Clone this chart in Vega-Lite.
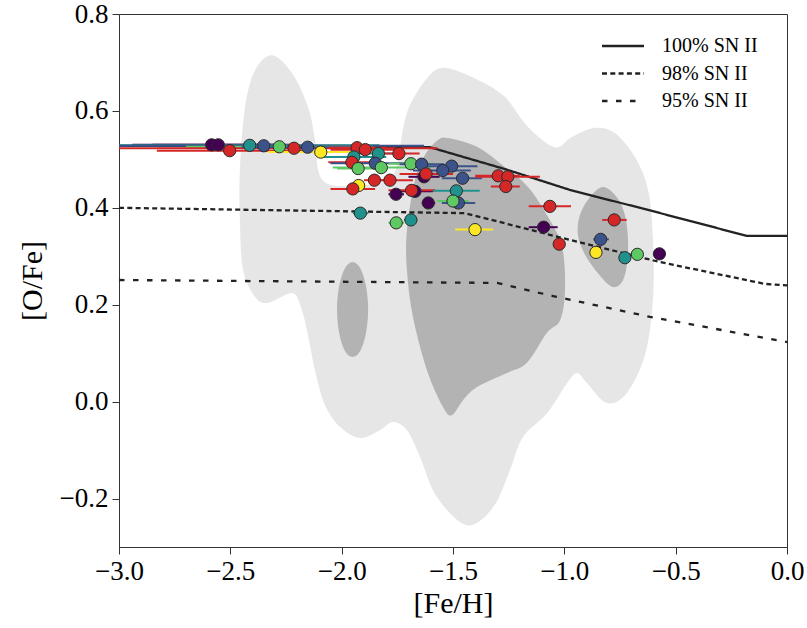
{
  "$schema": "https://vega.github.io/schema/vega-lite/v6.json",
  "width": 668,
  "height": 533,
  "autosize": {"type": "none"},
  "padding": {"left": 119, "top": 14, "right": 20, "bottom": 81},
  "background": "white",
  "config": {
    "view": {"stroke": "#333", "strokeWidth": 1},
    "axis": {
      "grid": false,
      "labelFont": "Liberation Serif",
      "labelFontSize": 27,
      "labelColor": "#000",
      "titleFont": "Liberation Serif",
      "titleFontSize": 30,
      "titleFontWeight": "normal",
      "titleColor": "#000",
      "tickSize": 7,
      "tickColor": "#333",
      "domainColor": "#333",
      "labelFlush": false,
      "labelOverlap": false,
      "labelPadding": 4
    }
  },
  "datasets": {
    "outer": [
      {"i": 1, "x": -2.313, "y": 0.715}, {"i": 2, "x": -2.223, "y": 0.678}, {"i": 3, "x": -2.151, "y": 0.608},
      {"i": 4, "x": -2.12, "y": 0.54}, {"i": 5, "x": -2.106, "y": 0.478}, {"i": 6, "x": -2.075, "y": 0.453},
      {"i": 7, "x": -2.008, "y": 0.445}, {"i": 8, "x": -1.895, "y": 0.447}, {"i": 9, "x": -1.783, "y": 0.459},
      {"i": 10, "x": -1.747, "y": 0.499}, {"i": 11, "x": -1.725, "y": 0.561}, {"i": 12, "x": -1.693, "y": 0.612},
      {"i": 13, "x": -1.612, "y": 0.67}, {"i": 14, "x": -1.536, "y": 0.689}, {"i": 15, "x": -1.388, "y": 0.664},
      {"i": 16, "x": -1.267, "y": 0.629}, {"i": 17, "x": -1.163, "y": 0.567}, {"i": 18, "x": -1.042, "y": 0.525},
      {"i": 19, "x": -0.966, "y": 0.546}, {"i": 20, "x": -0.862, "y": 0.565}, {"i": 21, "x": -0.772, "y": 0.554},
      {"i": 22, "x": -0.683, "y": 0.505}, {"i": 23, "x": -0.624, "y": 0.437}, {"i": 24, "x": -0.602, "y": 0.334},
      {"i": 25, "x": -0.602, "y": 0.21}, {"i": 26, "x": -0.638, "y": 0.096}, {"i": 27, "x": -0.719, "y": 0.018},
      {"i": 28, "x": -0.808, "y": -0.003}, {"i": 29, "x": -0.898, "y": 0.038}, {"i": 30, "x": -0.943, "y": 0.059},
      {"i": 31, "x": -0.988, "y": 0.038}, {"i": 32, "x": -1.078, "y": -0.024}, {"i": 33, "x": -1.186, "y": -0.073},
      {"i": 34, "x": -1.244, "y": -0.141}, {"i": 35, "x": -1.32, "y": -0.218}, {"i": 36, "x": -1.437, "y": -0.255},
      {"i": 37, "x": -1.572, "y": -0.197}, {"i": 38, "x": -1.648, "y": -0.114}, {"i": 39, "x": -1.707, "y": -0.059},
      {"i": 40, "x": -1.77, "y": -0.042}, {"i": 41, "x": -1.828, "y": -0.059}, {"i": 42, "x": -1.918, "y": -0.075},
      {"i": 43, "x": -2.008, "y": -0.052}, {"i": 44, "x": -2.075, "y": -0.007}, {"i": 45, "x": -2.12, "y": 0.065},
      {"i": 46, "x": -2.156, "y": 0.148}, {"i": 47, "x": -2.183, "y": 0.195}, {"i": 48, "x": -2.223, "y": 0.224},
      {"i": 49, "x": -2.331, "y": 0.204}, {"i": 50, "x": -2.389, "y": 0.216}, {"i": 51, "x": -2.443, "y": 0.272},
      {"i": 52, "x": -2.457, "y": 0.375}, {"i": 53, "x": -2.457, "y": 0.478}, {"i": 54, "x": -2.434, "y": 0.608},
      {"i": 55, "x": -2.389, "y": 0.684}
    ],
    "inner": [
      {"p": "c", "i": 1, "x": -1.567, "y": 0.54}, {"p": "c", "i": 2, "x": -1.522, "y": 0.544},
      {"p": "c", "i": 3, "x": -1.388, "y": 0.525}, {"p": "c", "i": 4, "x": -1.267, "y": 0.484},
      {"p": "c", "i": 5, "x": -1.163, "y": 0.443}, {"p": "c", "i": 6, "x": -1.073, "y": 0.381},
      {"p": "c", "i": 7, "x": -1.01, "y": 0.319}, {"p": "c", "i": 8, "x": -0.997, "y": 0.23},
      {"p": "c", "i": 9, "x": -1.019, "y": 0.168}, {"p": "c", "i": 10, "x": -1.078, "y": 0.142},
      {"p": "c", "i": 11, "x": -1.168, "y": 0.08}, {"p": "c", "i": 12, "x": -1.258, "y": 0.059},
      {"p": "c", "i": 13, "x": -1.392, "y": 0.03}, {"p": "c", "i": 14, "x": -1.455, "y": 0.003},
      {"p": "c", "i": 15, "x": -1.505, "y": -0.028}, {"p": "c", "i": 16, "x": -1.545, "y": -0.011},
      {"p": "c", "i": 17, "x": -1.617, "y": 0.065}, {"p": "c", "i": 18, "x": -1.68, "y": 0.175},
      {"p": "c", "i": 19, "x": -1.707, "y": 0.272}, {"p": "c", "i": 20, "x": -1.707, "y": 0.354},
      {"p": "c", "i": 21, "x": -1.671, "y": 0.457}, {"p": "c", "i": 22, "x": -1.626, "y": 0.509},
      {"p": "l", "i": 1, "x": -1.881, "y": 0.19}, {"p": "l", "i": 2, "x": -1.891, "y": 0.239},
      {"p": "l", "i": 3, "x": -1.916, "y": 0.275}, {"p": "l", "i": 4, "x": -1.951, "y": 0.288},
      {"p": "l", "i": 5, "x": -1.986, "y": 0.275}, {"p": "l", "i": 6, "x": -2.011, "y": 0.239},
      {"p": "l", "i": 7, "x": -2.021, "y": 0.19}, {"p": "l", "i": 8, "x": -2.011, "y": 0.141},
      {"p": "l", "i": 9, "x": -1.986, "y": 0.105}, {"p": "l", "i": 10, "x": -1.951, "y": 0.092},
      {"p": "l", "i": 11, "x": -1.916, "y": 0.105}, {"p": "l", "i": 12, "x": -1.891, "y": 0.141},
      {"p": "r", "i": 1, "x": -0.826, "y": 0.443}, {"p": "r", "i": 2, "x": -0.885, "y": 0.422},
      {"p": "r", "i": 3, "x": -0.93, "y": 0.385}, {"p": "r", "i": 4, "x": -0.939, "y": 0.344},
      {"p": "r", "i": 5, "x": -0.907, "y": 0.303}, {"p": "r", "i": 6, "x": -0.849, "y": 0.265},
      {"p": "r", "i": 7, "x": -0.786, "y": 0.237}, {"p": "r", "i": 8, "x": -0.741, "y": 0.247},
      {"p": "r", "i": 9, "x": -0.719, "y": 0.282}, {"p": "r", "i": 10, "x": -0.714, "y": 0.334},
      {"p": "r", "i": 11, "x": -0.728, "y": 0.385}, {"p": "r", "i": 12, "x": -0.764, "y": 0.422}
    ],
    "models": [
      {"m": "100% SN II", "x": -3.0, "y": 0.528}, {"m": "100% SN II", "x": -1.603, "y": 0.525},
      {"m": "100% SN II", "x": -1.267, "y": 0.48}, {"m": "100% SN II", "x": -0.975, "y": 0.437},
      {"m": "100% SN II", "x": -0.602, "y": 0.393}, {"m": "100% SN II", "x": -0.18, "y": 0.342},
      {"m": "100% SN II", "x": 0.0, "y": 0.342},
      {"m": "98% SN II", "x": -3.0, "y": 0.4}, {"m": "98% SN II", "x": -1.446, "y": 0.389},
      {"m": "98% SN II", "x": -1.011, "y": 0.338}, {"m": "98% SN II", "x": -0.57, "y": 0.288},
      {"m": "98% SN II", "x": -0.099, "y": 0.243}, {"m": "98% SN II", "x": 0.0, "y": 0.24},
      {"m": "95% SN II", "x": -3.0, "y": 0.251}, {"m": "95% SN II", "x": -1.302, "y": 0.245},
      {"m": "95% SN II", "x": -1.258, "y": 0.24}, {"m": "95% SN II", "x": -1.051, "y": 0.218},
      {"m": "95% SN II", "x": -0.615, "y": 0.175}, {"m": "95% SN II", "x": 0.0, "y": 0.123}
    ],
    "stars": [
      {"c": "purple", "x": -2.584, "y": 0.53, "lo": -2.94, "hi": -2.23},
      {"c": "purple", "x": -2.554, "y": 0.53, "lo": -2.85, "hi": -2.26},
      {"c": "red", "x": -2.503, "y": 0.518, "lo": -2.83, "hi": -2.17},
      {"c": "teal", "x": -2.413, "y": 0.529, "lo": -3.0, "hi": -1.83},
      {"c": "blue", "x": -2.35, "y": 0.528, "lo": -3.0, "hi": -1.63},
      {"c": "green", "x": -2.28, "y": 0.526, "lo": -2.7, "hi": -1.86},
      {"c": "red", "x": -2.214, "y": 0.523, "lo": -3.0, "hi": -1.57},
      {"c": "blue", "x": -2.153, "y": 0.525, "lo": -2.45, "hi": -1.86},
      {"c": "yellow", "x": -2.094, "y": 0.515, "lo": -2.33, "hi": -1.86},
      {"c": "red", "x": -1.931, "y": 0.524, "lo": -2.06, "hi": -1.8},
      {"c": "red", "x": -1.894, "y": 0.52, "lo": -2.05, "hi": -1.74},
      {"c": "teal", "x": -1.835, "y": 0.512, "lo": -1.95, "hi": -1.72},
      {"c": "teal", "x": -1.945, "y": 0.505, "lo": -2.09, "hi": -1.8},
      {"c": "red", "x": -1.954, "y": 0.494, "lo": -2.06, "hi": -1.85},
      {"c": "blue", "x": -1.849, "y": 0.492, "lo": -2.05, "hi": -1.65},
      {"c": "green", "x": -1.822, "y": 0.483, "lo": -2.04, "hi": -1.6},
      {"c": "green", "x": -1.926, "y": 0.481, "lo": -2.02, "hi": -1.83},
      {"c": "red", "x": -1.743, "y": 0.512, "lo": -1.84, "hi": -1.65},
      {"c": "green", "x": -1.689, "y": 0.491, "lo": -1.79, "hi": -1.59},
      {"c": "blue", "x": -1.641, "y": 0.49, "lo": -1.74, "hi": -1.54},
      {"c": "blue", "x": -1.506, "y": 0.486, "lo": -1.62, "hi": -1.39},
      {"c": "blue", "x": -1.546, "y": 0.477, "lo": -1.68, "hi": -1.42},
      {"c": "purple", "x": -1.63, "y": 0.464, "lo": -1.7, "hi": -1.56},
      {"c": "red", "x": -1.621, "y": 0.47, "lo": -1.74, "hi": -1.5},
      {"c": "blue", "x": -1.457, "y": 0.461, "lo": -1.55, "hi": -1.37},
      {"c": "red", "x": -1.853, "y": 0.457, "lo": -1.9, "hi": -1.8},
      {"c": "red", "x": -1.783, "y": 0.457, "lo": -1.88, "hi": -1.68},
      {"c": "yellow", "x": -1.924, "y": 0.446, "lo": -1.96, "hi": -1.89},
      {"c": "red", "x": -1.95, "y": 0.439, "lo": -2.05, "hi": -1.85},
      {"c": "purple", "x": -1.756, "y": 0.428, "lo": -1.79, "hi": -1.72},
      {"c": "purple", "x": -1.671, "y": 0.434, "lo": -1.75, "hi": -1.59},
      {"c": "red", "x": -1.686, "y": 0.436, "lo": -1.79, "hi": -1.58},
      {"c": "teal", "x": -1.485, "y": 0.435, "lo": -1.59, "hi": -1.38},
      {"c": "blue", "x": -1.476, "y": 0.41, "lo": -1.55, "hi": -1.4},
      {"c": "green", "x": -1.5, "y": 0.414, "lo": -1.57, "hi": -1.43},
      {"c": "purple", "x": -1.611, "y": 0.41, "lo": -1.64, "hi": -1.58},
      {"c": "teal", "x": -1.916, "y": 0.389, "lo": -1.95, "hi": -1.88},
      {"c": "green", "x": -1.755, "y": 0.369, "lo": -1.79, "hi": -1.72},
      {"c": "teal", "x": -1.689, "y": 0.375, "lo": -1.72, "hi": -1.66},
      {"c": "yellow", "x": -1.401, "y": 0.355, "lo": -1.49, "hi": -1.32},
      {"c": "red", "x": -1.297, "y": 0.466, "lo": -1.4, "hi": -1.2},
      {"c": "red", "x": -1.254, "y": 0.464, "lo": -1.4, "hi": -1.11},
      {"c": "red", "x": -1.263, "y": 0.444, "lo": -1.33, "hi": -1.2},
      {"c": "red", "x": -1.065, "y": 0.403, "lo": -1.16, "hi": -0.97},
      {"c": "purple", "x": -1.093, "y": 0.36, "lo": -1.16, "hi": -1.03},
      {"c": "red", "x": -1.023, "y": 0.325, "lo": -1.05, "hi": -1.0},
      {"c": "red", "x": -0.776, "y": 0.375, "lo": -0.83, "hi": -0.72},
      {"c": "blue", "x": -0.837, "y": 0.335, "lo": -0.87, "hi": -0.8},
      {"c": "yellow", "x": -0.858, "y": 0.308, "lo": -0.87, "hi": -0.85},
      {"c": "teal", "x": -0.728, "y": 0.297, "lo": -0.74, "hi": -0.72},
      {"c": "green", "x": -0.672, "y": 0.304, "lo": -0.68, "hi": -0.66},
      {"c": "purple", "x": -0.573, "y": 0.305, "lo": -0.58, "hi": -0.57}
    ]
  },
  "layer": [
    {
      "data": {"name": "outer"},
      "mark": {"type": "line", "filled": true, "color": "#e6e6e6", "interpolate": "cardinal-closed"},
      "encoding": {
        "x": {"field": "x", "type": "quantitative", "scale": {"domain": [-3, 0], "nice": false, "zero": false}, "title": "[Fe/H]", "axis": {"values": [-3, -2.5, -2, -1.5, -1, -0.5, 0], "format": ".1f", "titlePadding": 4}},
        "y": {"field": "y", "type": "quantitative", "scale": {"domain": [-0.3, 0.8], "nice": false, "zero": false}, "title": "[O/Fe]", "axis": {"values": [-0.2, 0, 0.2, 0.4, 0.6, 0.8], "format": ".1f", "titlePadding": 12}},
        "order": {"field": "i", "type": "quantitative"}
      }
    },
    {
      "data": {"name": "inner"},
      "mark": {"type": "line", "filled": true, "color": "#b3b3b3", "interpolate": "cardinal-closed"},
      "encoding": {
        "x": {"field": "x", "type": "quantitative", "title": "[Fe/H]"},
        "y": {"field": "y", "type": "quantitative", "title": "[O/Fe]"},
        "detail": {"field": "p", "type": "nominal"},
        "order": {"field": "i", "type": "quantitative"}
      }
    },
    {
      "data": {"name": "models"},
      "mark": {"type": "line", "color": "#222", "strokeWidth": 2.3},
      "encoding": {
        "x": {"field": "x", "type": "quantitative", "title": "[Fe/H]"},
        "y": {"field": "y", "type": "quantitative", "title": "[O/Fe]"},
        "strokeDash": {
          "field": "m", "type": "nominal",
          "scale": {"domain": ["100% SN II", "98% SN II", "95% SN II"], "range": [[1, 0], [5, 3.3], [5.5, 8.5]]},
          "legend": {
            "title": null, "orient": "none", "legendX": 492, "legendY": 20,
            "symbolType": "M-2,0H2", "symbolSize": 441, "symbolStrokeWidth": 2.3,
            "symbolStrokeColor": "#222", "symbolFillColor": "transparent",
            "labelFont": "Liberation Serif", "labelFontSize": 20, "labelColor": "#000",
            "labelOffset": 27, "rowPadding": 5.5, "labelLimit": 300
          }
        }
      }
    },
    {
      "data": {"name": "stars"},
      "mark": {"type": "rule", "strokeWidth": 2, "clip": true},
      "encoding": {
        "x": {"field": "lo", "type": "quantitative", "title": "[Fe/H]"},
        "x2": {"field": "hi"},
        "y": {"field": "y", "type": "quantitative", "title": "[O/Fe]"},
        "color": {"field": "c", "type": "nominal", "scale": {"domain": ["purple", "blue", "teal", "green", "yellow", "red"], "range": ["#440154", "#3b528b", "#21918c", "#5ec962", "#fde725", "#d62728"]}, "legend": null}
      }
    },
    {
      "data": {"name": "stars"},
      "mark": {"type": "point", "filled": true, "size": 150, "stroke": "#2a2a2a", "strokeWidth": 1, "opacity": 1},
      "encoding": {
        "x": {"field": "x", "type": "quantitative", "title": "[Fe/H]"},
        "y": {"field": "y", "type": "quantitative", "title": "[O/Fe]"},
        "color": {"field": "c", "type": "nominal", "scale": {"domain": ["purple", "blue", "teal", "green", "yellow", "red"], "range": ["#440154", "#3b528b", "#21918c", "#5ec962", "#fde725", "#d62728"]}, "legend": null}
      }
    }
  ]
}
